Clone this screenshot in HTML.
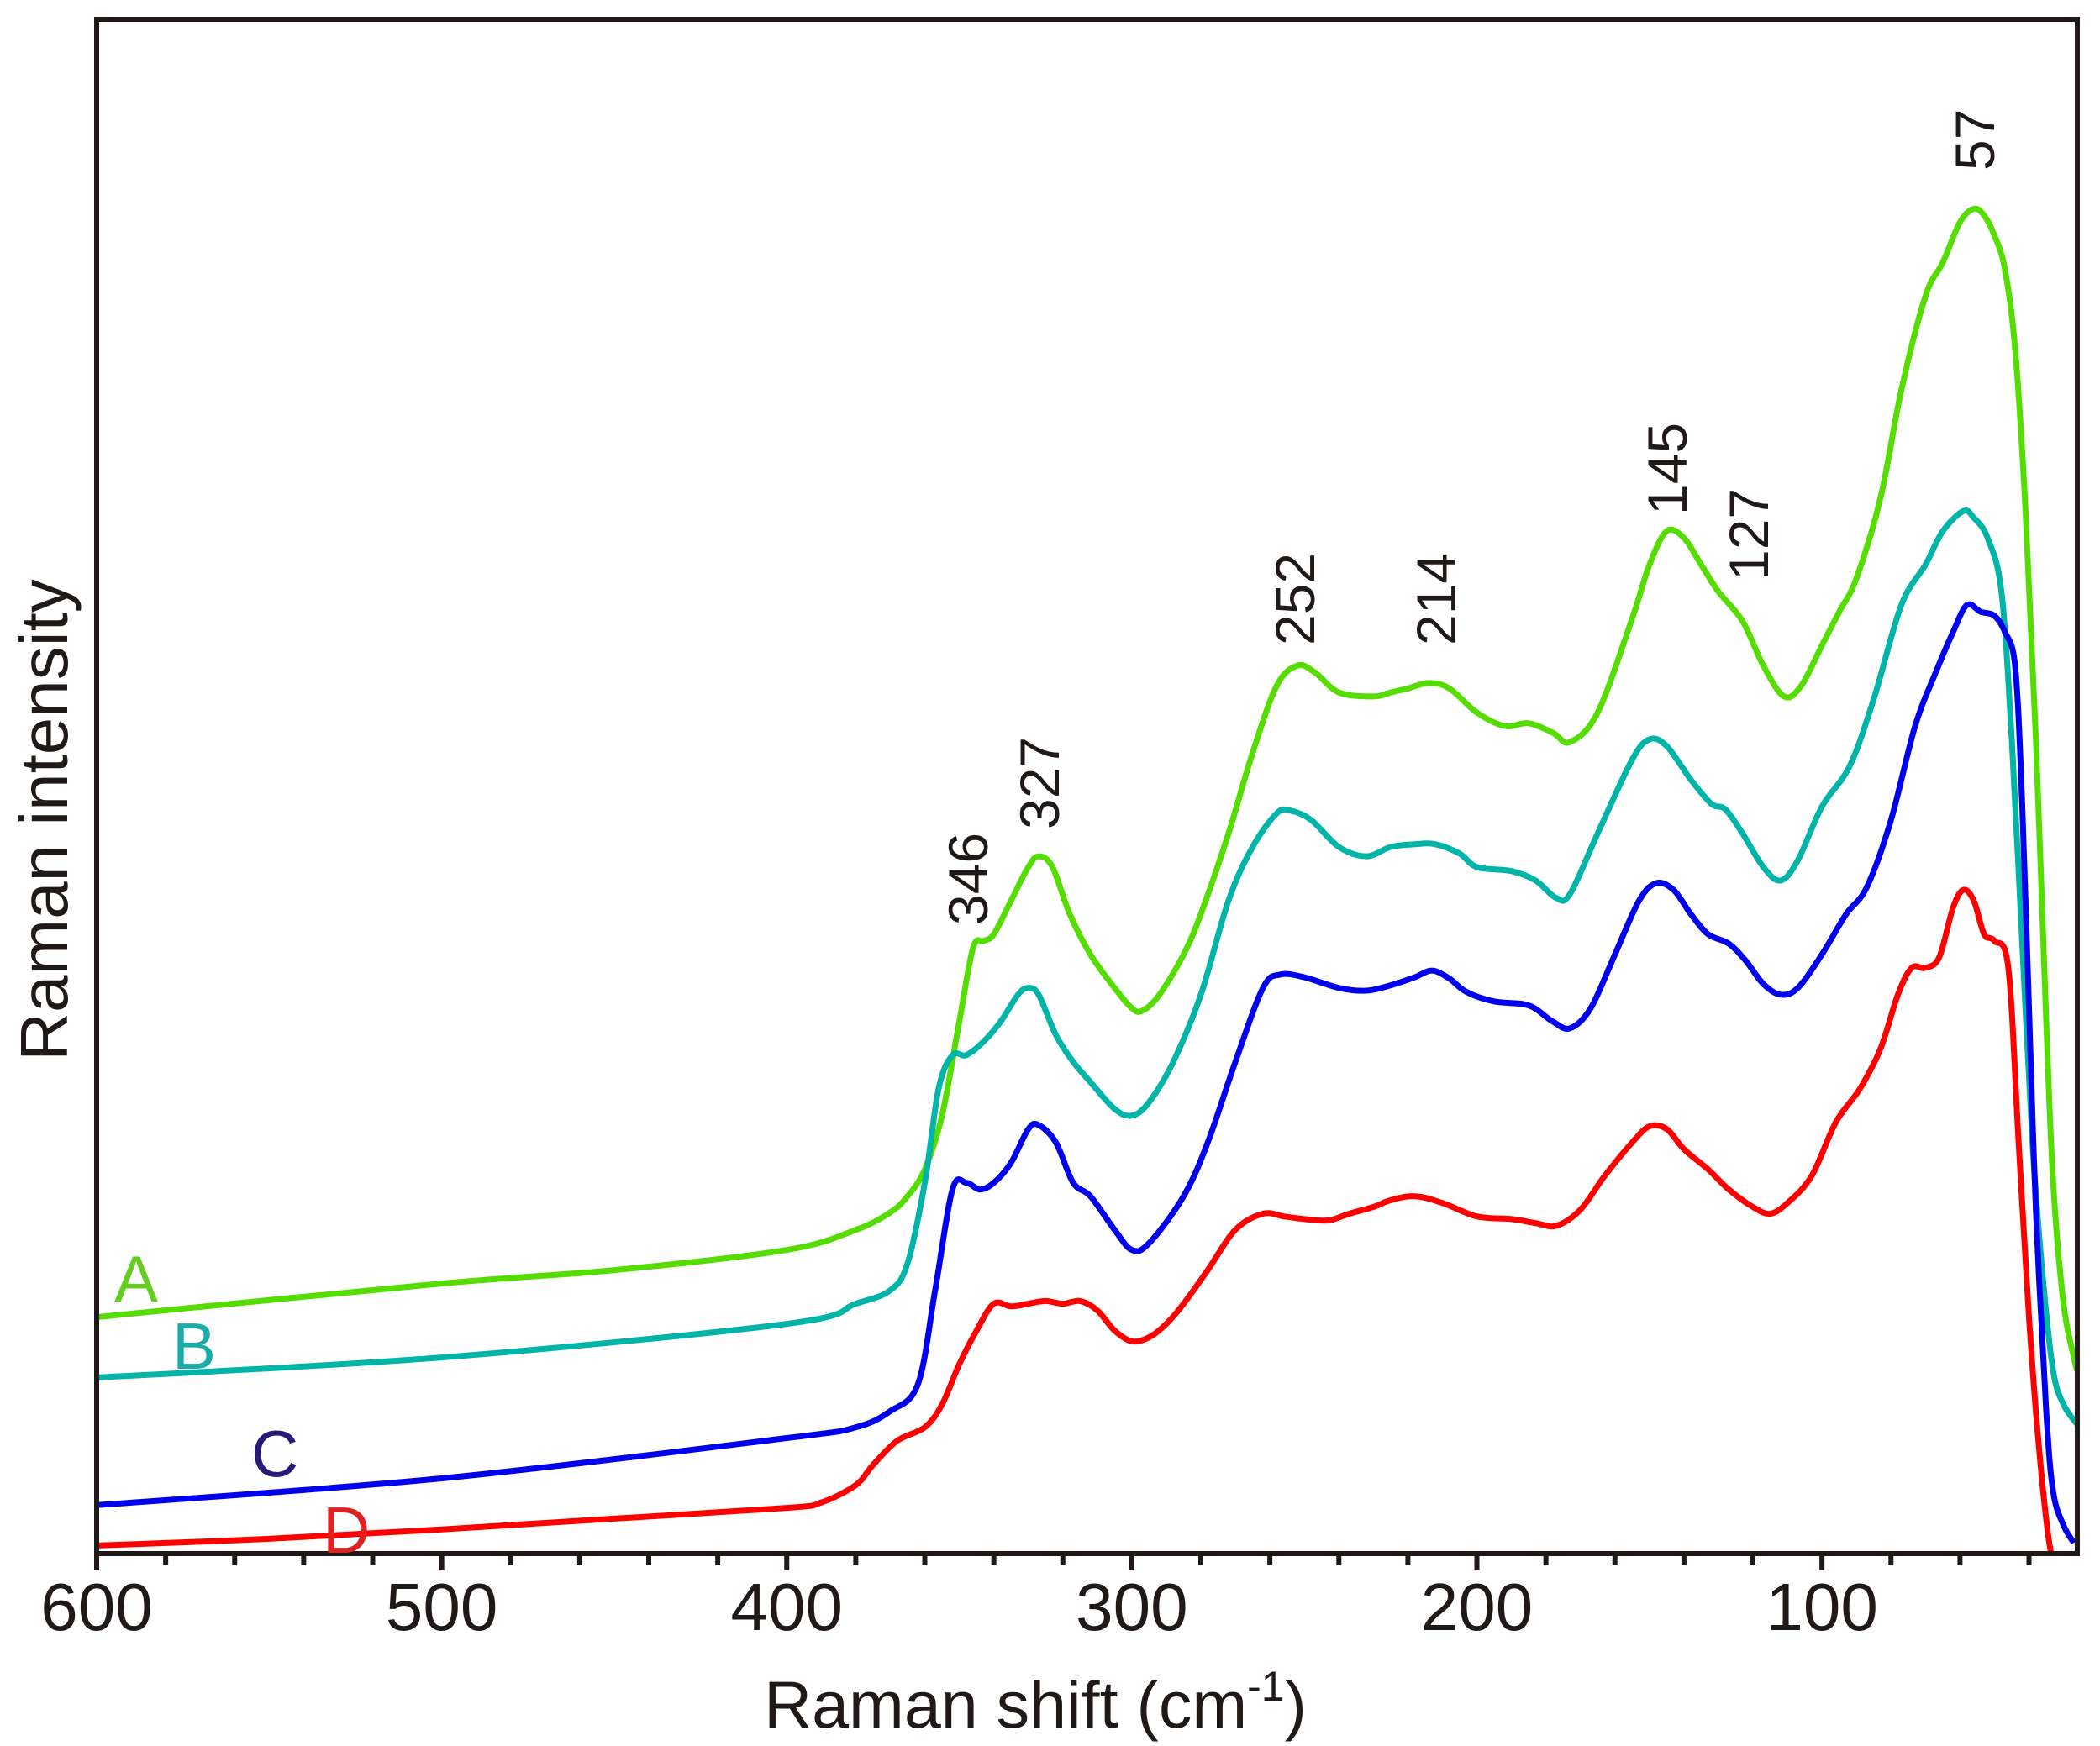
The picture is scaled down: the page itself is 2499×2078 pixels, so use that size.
<!DOCTYPE html>
<html><head><meta charset="utf-8"><style>
html,body{margin:0;padding:0;background:#fff}
svg{display:block}
text{font-family:"Liberation Sans",Arial,sans-serif;fill:#1f1a17}
</style></head><body>
<svg id="chart" width="2499" height="2078" viewBox="0 0 2499 2078" xmlns="http://www.w3.org/2000/svg">
<defs><clipPath id="clip"><rect x="115" y="23" width="2357" height="1826"/></clipPath></defs>
<g id="series" clip-path="url(#clip)"></g>
<rect x="115" y="23" width="2357" height="1826" fill="none" stroke="#1f1a17" stroke-width="6"/>
<g id="ticks"></g>
<text x="1232" y="2056" font-size="79" text-anchor="middle">Raman shift (cm<tspan font-size="50" dy="-32">-1</tspan><tspan dy="32">)</tspan></text>
<text x="0" y="0" font-size="80" text-anchor="middle" transform="translate(80,976) rotate(-90)">Raman intensity</text>
<text x="136" y="1549" font-size="78" style="fill:#66cc22">A</text>
<text x="205" y="1629" font-size="78" style="fill:#1aada8">B</text>
<text x="299" y="1757" font-size="78" style="fill:#2a1a78">C</text>
<text x="384" y="1848" font-size="78" style="fill:#dd2222">D</text>
<g id="peaks"></g>
</svg>
<script>
const xMin = 26, xMax = 600;
const yMax = 1142;
const peakLabels = ["346","327","252","214","145","127","57"];
const peakPos = [[1175,1101],[1260,987],[1564,768],[1732,768],[2007,613],[2104,691],[2373,203]];
const tickMajor = [600,500,400,300,200,100];
const xA = [600,500,450,400,380,370,365,360,355,350,346,343,340,335,330,327,323,318,312,305,300,297,292,285,280,272,265,258,252,247,240,230,225,220,214,208,200,192,185,178,173,165,155,150,145,140,135,130,123,117,111,106,100,95,90,83,77,70,65,60,56,53,50,47,44,41,38,35,33,30,27,26];
const yA = [176,201,211,226,241,254,266,286,326,396,451,456,461,486,511,519,511,476,446,421,406,404,416,446,476,536,596,646,661,656,641,638,641,644,648,644,626,616,618,611,604,626,696,736,761,756,736,716,694,661,638,646,676,701,726,786,866,936,961,991,1001,996,981,956,896,776,606,396,276,186,146,136];
const xB = [600,500,400,380,370,365,360,356,352,348,343,338,333,330,327,322,317,312,305,300,295,288,280,272,265,258,254,248,240,232,225,218,212,205,200,190,183,177,173,165,155,150,145,138,132,128,123,117,112,107,100,92,85,77,70,65,59,56,52,48,45,42,39,36,33,30,26];
const yB = [131,146,171,186,196,216,276,346,371,371,381,396,416,421,416,386,366,351,331,326,336,366,416,486,526,551,553,546,526,519,526,528,528,521,511,508,501,488,491,536,591,606,601,576,558,554,536,511,501,516,556,586,636,706,736,761,776,771,756,716,606,456,306,206,136,111,96];
const xC = [600,500,400,380,370,362,357,352,348,344,340,335,330,327,322,317,312,305,300,295,285,278,270,262,257,250,240,232,225,218,213,208,203,195,185,178,173,167,160,153,148,143,138,133,127,122,117,112,107,100,93,87,80,73,67,62,58,54,50,47,44,42,40,38,35,33,30,27];
const yC = [36,56,86,94,106,126,196,271,276,271,276,291,316,319,306,276,266,241,226,231,266,306,366,421,431,429,421,419,423,429,434,428,418,411,408,396,391,406,446,486,499,494,476,461,454,441,424,416,421,446,476,496,546,616,656,686,706,701,698,686,660,560,406,256,106,46,21,8];
const xD = [600,550,500,450,400,390,380,375,368,360,355,350,345,340,335,330,325,320,315,310,305,300,295,290,285,278,270,262,256,250,243,237,230,225,218,210,200,190,183,177,170,163,155,150,145,140,133,127,120,115,110,103,96,89,83,78,74,70,66,62,59,56,53,50,46,43,40,37,34,32];
const yD = [6,11,18,26,34,38,51,66,84,94,111,141,166,186,184,186,188,186,188,181,166,158,161,171,186,211,241,253,251,249,248,253,258,263,266,261,251,249,246,244,256,281,306,318,316,301,286,271,258,253,261,281,321,346,376,416,436,436,444,481,494,486,461,456,436,306,176,76,6,-9];
const series = [["series-a",xA,yA,"#55dd00"],["series-b",xB,yB,"#00b4a8"],["series-c",xC,yC,"#0000ee"],["series-d",xD,yD,"#ff0000"]];
const L=115,R=2472,T=23,B=1849;
function sx(v){return L+(xMax-v)/(xMax-xMin)*(R-L);}
function sy(v){return B-v/yMax*(B-T);}
const NS="http://www.w3.org/2000/svg";
function smoothPath(pts){
  let d='M'+pts[0][0].toFixed(1)+','+pts[0][1].toFixed(1);
  for(let i=0;i<pts.length-1;i++){
    const p0=pts[Math.max(0,i-1)],p1=pts[i],p2=pts[i+1],p3=pts[Math.min(pts.length-1,i+2)];
    const c1x=p1[0]+(p2[0]-p0[0])/6,c1y=p1[1]+(p2[1]-p0[1])/6;
    const c2x=p2[0]-(p3[0]-p1[0])/6,c2y=p2[1]-(p3[1]-p1[1])/6;
    d+='C'+c1x.toFixed(1)+','+c1y.toFixed(1)+' '+c2x.toFixed(1)+','+c2y.toFixed(1)+' '+p2[0].toFixed(1)+','+p2[1].toFixed(1);
  }
  return d;
}
const g=document.getElementById('series');
series.forEach(s=>{
  const p=document.createElementNS(NS,'path');
  const pts=s[1].map((x,i)=>[sx(x),sy(s[2][i])]);
  p.setAttribute('d',smoothPath(pts));
  p.setAttribute('fill','none');
  p.setAttribute('stroke',s[3]);
  p.setAttribute('stroke-width','7');
  p.setAttribute('stroke-linejoin','round');
  
  
  g.appendChild(p);
});
const tg=document.getElementById('ticks');
for(let v=600;v>=xMin;v-=20){
  const major=v%100===0;
  const l=document.createElementNS(NS,'line');
  l.setAttribute('x1',sx(v));l.setAttribute('x2',sx(v));
  l.setAttribute('y1',B);l.setAttribute('y2',B+(major?20:14));
  l.setAttribute('stroke','#1f1a17');l.setAttribute('stroke-width','6');
  
  
  tg.appendChild(l);
}
tickMajor.forEach(v=>{
  const t=document.createElementNS(NS,'text');
  t.setAttribute('x',sx(v));t.setAttribute('y',1940);
  t.setAttribute('font-size','80');t.setAttribute('text-anchor','middle');
  t.textContent=v;
  
  
  tg.appendChild(t);
});
const pg=document.getElementById('peaks');
peakLabels.forEach((lab,i)=>{
  const t=document.createElementNS(NS,'text');
  t.setAttribute('transform','translate('+peakPos[i][0]+','+peakPos[i][1]+') rotate(-90)');
  t.setAttribute('font-size','66');
  t.textContent=lab;
  
  
  pg.appendChild(t);
});
</script>
</body></html>
